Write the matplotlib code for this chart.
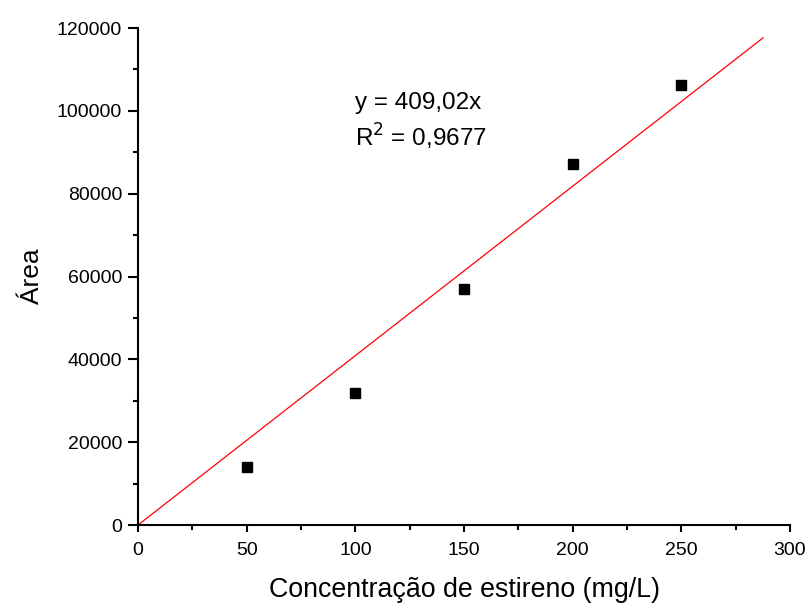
import matplotlib
matplotlib.use('Agg')
import matplotlib.pyplot as plt
from matplotlib.ticker import MultipleLocator

plt.rcParams['font.family'] = ['Liberation Sans', 'DejaVu Sans']

# dados
conc = [50, 100, 150, 200, 250]
area = [14000, 31800, 57000, 87200, 106300]
slope = 409.02
x_fit = [0, 287.6]

fig = plt.figure(figsize=(8.1, 6.08), dpi=100)
ax = fig.add_axes([0.1704, 0.1365, 0.8049, 0.8174])

ax.plot(x_fit, [slope * v for v in x_fit], color='red', lw=0.9)
ax.plot(conc, area, 's', color='black', markersize=7.5)

ax.set_xlim(0, 300)
ax.set_ylim(0, 120000)
ax.xaxis.set_major_locator(MultipleLocator(50))
ax.xaxis.set_minor_locator(MultipleLocator(25))
ax.yaxis.set_major_locator(MultipleLocator(20000))
ax.yaxis.set_minor_locator(MultipleLocator(10000))

for s in ['top', 'right']:
    ax.spines[s].set_visible(False)
for s in ['left', 'bottom']:
    ax.spines[s].set_linewidth(1.5)
ax.tick_params(which='major', direction='out', width=1.5, labelsize=14)
ax.tick_params(axis='x', which='major', length=5, pad=7)
ax.tick_params(axis='y', which='major', length=7.5, pad=4)
ax.tick_params(which='minor', direction='out', length=3.5, width=1.5)

ax.set_xlabel('Concentração de estireno (mg/L)', fontsize=19.3, labelpad=13)
ax.set_ylabel('Área', fontsize=19, labelpad=9)

ax.text(100, 101800, 'y = 409,02x', fontsize=17.5, va='center', ha='left')
ax.text(100, 93600, 'R$^2$ = 0,9677', fontsize=17.5, va='center', ha='left')

fig.savefig('out.png', dpi=100)
